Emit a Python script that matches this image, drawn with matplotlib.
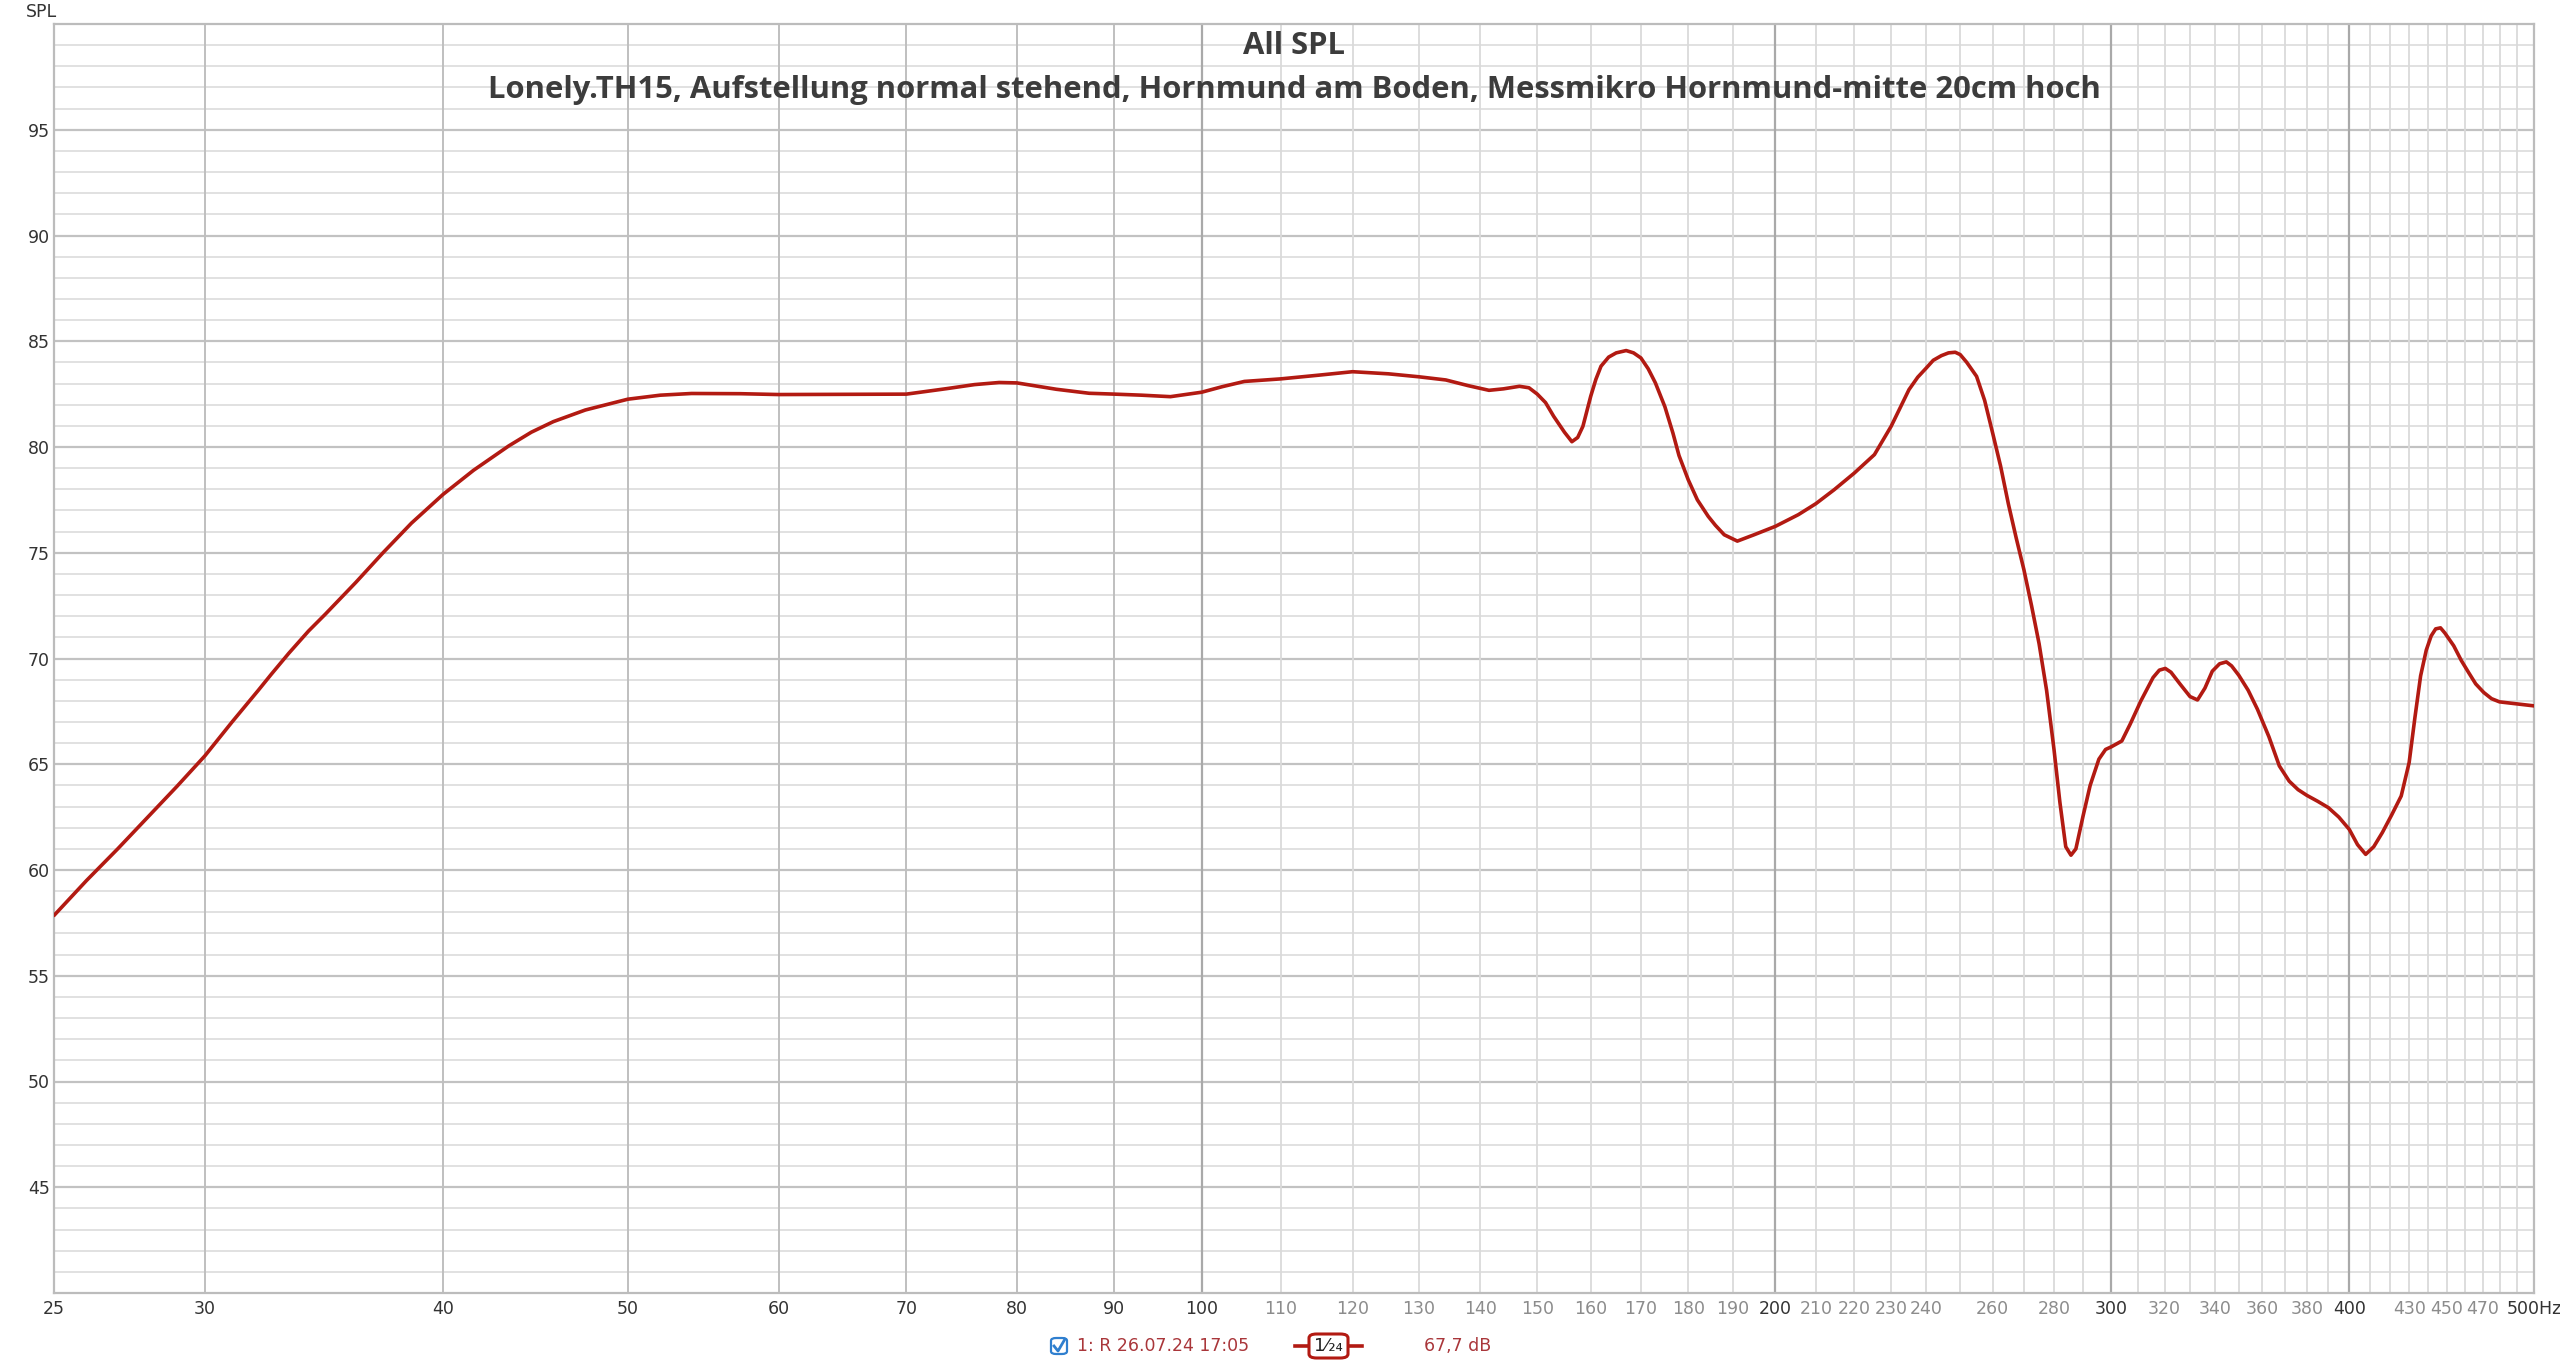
import matplotlib
matplotlib.use("Agg")
import matplotlib.pyplot as plt
from matplotlib.ticker import NullLocator, FixedLocator
from matplotlib.patches import FancyBboxPatch
from matplotlib.lines import Line2D

# ---- data ----
freq = [25.0, 26.0, 27.0, 28.0, 29.0, 30.0, 31.0, 32.0, 32.5, 33.2, 34.0, 34.7,
        36.0, 37.2, 38.5, 40.0, 41.5, 43.3, 44.5, 45.7, 47.5, 50.0, 52.0, 54.0,
        57.3, 60.0, 64.9, 70.0, 73.5, 76.0, 78.3, 80.0, 83.9, 87.3, 90.0,
        93.0, 96.3, 100.0, 102.5, 105.3, 110.0, 115.3, 120.0, 125.3, 130.0, 134.3,
        138.0, 141.5, 144.0, 146.8, 148.5, 150.0, 151.5, 153.0, 155.0, 156.4,
        157.5, 158.5, 160.0, 161.0, 162.0, 163.5, 165.0, 167.0, 168.5, 170.0,
        171.5, 173.0, 175.0, 176.7, 178.0, 180.0, 182.0, 184.4, 186.0, 188.0,
        191.0, 194.9, 200.0, 205.6, 210.0, 214.7, 220.0, 225.4, 230.0, 235.0,
        237.5, 240.0, 242.0, 244.4, 246.5, 248.5, 250.0, 252.0, 255.0, 257.5,
        260.0, 262.5, 265.0, 267.5, 270.0, 272.5, 275.0, 277.5, 280.0, 282.0,
        284.0, 285.8, 287.5, 290.0, 292.5, 295.6, 298.0, 300.0, 303.9, 307.0,
        311.0, 315.6, 318.0, 320.3, 322.5, 326.0, 330.0, 333.0, 336.0, 339.0,
        342.0, 344.8, 347.0, 350.0, 354.0, 358.0, 363.0, 367.6, 372.0, 376.0,
        380.0, 385.0, 390.0, 395.0, 400.0, 404.0, 408.0, 412.0, 416.3, 421.0,
        425.9, 430.0, 433.0, 436.0, 439.0, 441.6, 444.0, 446.6, 449.0, 453.8,
        458.0, 462.0, 466.0, 470.6, 475.0, 479.6, 490.0, 500.0]
spl = [57.85, 59.5, 61.0, 62.5, 63.95, 65.4, 67.0, 68.5, 69.25, 70.25, 71.3, 72.1,
       73.6, 75.0, 76.4, 77.76, 78.9, 80.05, 80.7, 81.2, 81.75, 82.26, 82.45, 82.53,
       82.52, 82.48, 82.49, 82.5, 82.76, 82.95, 83.05, 83.03, 82.73, 82.54, 82.5,
       82.45, 82.38, 82.59, 82.85, 83.1, 83.22, 83.4, 83.56, 83.46, 83.32, 83.17,
       82.9, 82.68, 82.75, 82.87, 82.8, 82.5, 82.1, 81.45, 80.7, 80.25,
       80.45, 80.98, 82.4, 83.2, 83.82, 84.25, 84.45, 84.56, 84.45, 84.21,
       83.7, 83.03, 81.9, 80.66, 79.6, 78.45, 77.5, 76.72, 76.3, 75.85,
       75.55, 75.85, 76.25, 76.8, 77.32, 77.98, 78.77, 79.64, 80.98, 82.71,
       83.3, 83.74, 84.1, 84.32, 84.45, 84.48, 84.37, 84.0, 83.34, 82.2,
       80.66, 79.1, 77.3, 75.7, 74.2, 72.5, 70.7, 68.5, 65.7, 63.2,
       61.1, 60.7, 61.0, 62.55, 64.0, 65.24, 65.7, 65.82, 66.1, 66.9,
       68.0, 69.1, 69.45, 69.53, 69.35, 68.8, 68.2, 68.04, 68.6, 69.4,
       69.75, 69.84, 69.65, 69.21, 68.5, 67.6, 66.3, 64.92, 64.2, 63.8,
       63.53, 63.25, 62.95, 62.5, 61.92, 61.2, 60.74, 61.1, 61.77, 62.6,
       63.5, 65.08, 67.2, 69.18, 70.4, 71.07, 71.4, 71.45, 71.2, 70.6,
       69.9, 69.34, 68.8, 68.39, 68.1, 67.95, 67.85, 67.76]

tick_freqs = [25, 30, 40, 50, 60, 70, 80, 90, 100, 110, 120, 130, 140, 150, 160,
              170, 180, 190, 200, 210, 220, 230, 240, 260, 280, 300, 320, 340,
              360, 380, 400, 430, 450, 470, 500]
tick_labels = ["25", "30", "40", "50", "60", "70", "80", "90", "100", "110", "120",
               "130", "140", "150", "160", "170", "180", "190", "200", "210", "220",
               "230", "240", "260", "280", "300", "320", "340", "360", "380", "400",
               "430", "450", "470", "500Hz"]
dark_labels = ["25", "30", "40", "50", "60", "70", "80", "90", "100", "200",
               "300", "400", "500Hz"]
y_ticks = [45, 50, 55, 60, 65, 70, 75, 80, 85, 90, 95]

title = "All SPL"
subtitle = ("Lonely.TH15, Aufstellung normal stehend, Hornmund am Boden, "
            "Messmikro Hornmund-mitte 20cm hoch")
legend_name = "1: R 26.07.24 17:05"
legend_value = "67,7 dB"

W, H = 2560, 1361
fig = plt.figure(figsize=(W / 100, H / 100), dpi=100)
fig.patch.set_facecolor("white")
ax_l, ax_r, ax_t, ax_b = 54, 2534, 24, 1293
ax = fig.add_axes([ax_l / W, 1 - ax_b / H, (ax_r - ax_l) / W, (ax_b - ax_t) / H])
ax.set_xscale("log")
ax.set_xlim(25, 500)
ax.set_ylim(40, 100)

# grid
for db in range(41, 100):
    major = db % 5 == 0
    ax.axhline(db, color="#c2c2c2" if major else "#dedede",
               lw=1.6 if major else 1.3, zorder=0)
for f in range(30, 500, 10):
    if f in (100, 200, 300, 400):
        c, lw = "#a9a9a9", 1.6
    elif f < 100:
        c, lw = "#bfbfbf", 1.4
    else:
        c, lw = "#dadada", 1.3
    ax.axvline(f, color=c, lw=lw, zorder=0)

ax.plot(freq, spl, color="#b21a12", lw=2.6, solid_joinstyle="round",
        solid_capstyle="round", zorder=3)

tick_font = ["Liberation Sans Narrow", "DejaVu Sans"]
ax.xaxis.set_major_locator(FixedLocator(tick_freqs))
ax.xaxis.set_minor_locator(NullLocator())
ax.set_xticklabels(tick_labels, fontsize=12.5, family=tick_font)
for lab in ax.get_xticklabels():
    lab.set_color("#333333" if lab.get_text() in dark_labels else "#8c8c8c")
ax.set_yticks(y_ticks)
ax.yaxis.set_minor_locator(NullLocator())
ax.set_yticklabels([str(v) for v in y_ticks], fontsize=12.5, family=tick_font,
                   color="#333333")
ax.tick_params(axis="x", length=0, pad=5)
ax.tick_params(axis="y", length=0, pad=3)
for s in ax.spines.values():
    s.set_color("#bcbcbc")
    s.set_linewidth(1.6)

fig.text(26 / W, 1 - 12 / H, "SPL", fontsize=12.5, family=tick_font,
         color="#333333", va="center", ha="left")

cx = (ax_l + ax_r) / 2 / W
fig.text(cx, 1 - 46 / H, title, fontsize=22.3, family="Open Sans",
         fontweight="bold", color="#3c3c3c", ha="center", va="center")
fig.text(cx, 1 - 90 / H, subtitle, fontsize=22.3, family="Open Sans",
         fontweight="bold", color="#3c3c3c", ha="center", va="center")

# legend row
ly = 1 - 1346 / H
box = FancyBboxPatch((1051 / W, 1 - 1354 / H), 16 / W, 16 / H,
                     boxstyle="round,pad=0,rounding_size=0.002",
                     transform=fig.transFigure, facecolor="white",
                     edgecolor="#2f7fcf", lw=1.6)
fig.add_artist(box)
fig.add_artist(Line2D([1054 / W, 1058 / W, 1065 / W],
                      [1 - 1346 / H, 1 - 1351 / H, 1 - 1339 / H],
                      transform=fig.transFigure, color="#2f7fcf", lw=2))
fig.text(1077 / W, ly, legend_name, fontsize=12.5, family=tick_font,
         color="#a9363a", ha="left", va="center")
fig.add_artist(Line2D([1295 / W, 1362 / W], [ly, ly], transform=fig.transFigure,
                      color="#b21a12", lw=2.6))
sbox = FancyBboxPatch((1309 / W, 1 - 1358 / H), 39 / W, 24 / H,
                      boxstyle="round,pad=0,rounding_size=0.003",
                      transform=fig.transFigure, facecolor="white",
                      edgecolor="#b21a12", lw=2.2, zorder=5)
fig.add_artist(sbox)
fig.text(1328 / W, ly, "1\u2044\u2082\u2084", fontsize=13,
         family=["DejaVu Sans"], color="#222222",
         ha="center", va="center", zorder=6)
fig.text(1424 / W, ly, legend_value, fontsize=12.5, family=tick_font,
         color="#a9363a", ha="left", va="center")

fig.savefig("out.png", dpi=100, facecolor="white")
